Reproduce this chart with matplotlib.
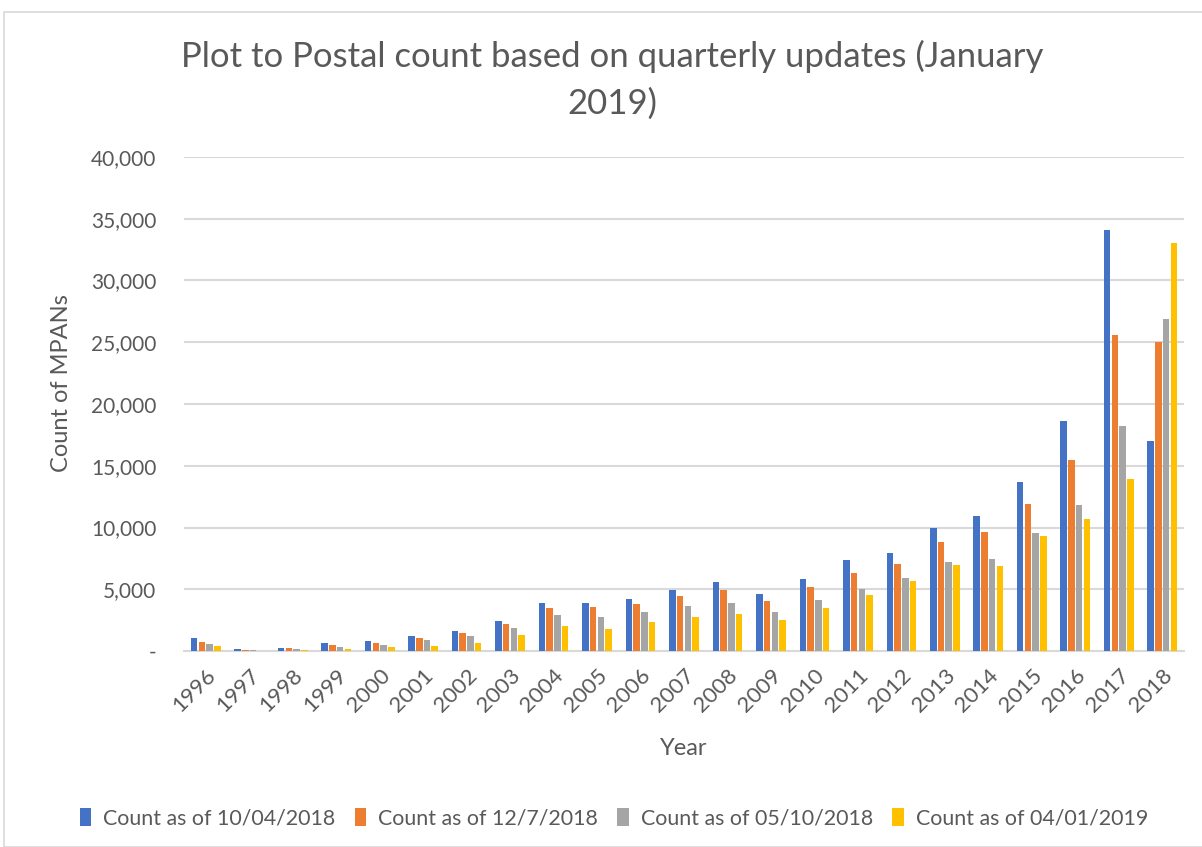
import numpy as np
import matplotlib.pyplot as plt
from matplotlib.patches import Rectangle
from matplotlib.ticker import FuncFormatter

years = [str(y) for y in range(1996, 2019)]
count_apr_2018 = [1030, 160, 270, 650, 790, 1200, 1630, 2390, 3900, 3900, 4240, 4920,
                  5600, 4650, 5870, 7340, 7960, 10000, 10900, 13700, 18600, 34100, 17000]
count_jul_2018 = [710, 110, 220, 490, 630, 1030, 1440, 2170, 3500, 3560, 3780, 4430,
                  4970, 4080, 5220, 6330, 7040, 8800, 9650, 11900, 15500, 25600, 25000]
count_oct_2018 = [570, 80, 160, 330, 490, 870, 1220, 1880, 2900, 2740, 3150, 3640,
                  3910, 3130, 4160, 5000, 5920, 7200, 7460, 9550, 11800, 18200, 26900]
count_jan_2019 = [410, 30, 110, 190, 300, 430, 630, 1280, 2040, 1800, 2340, 2770,
                  3020, 2530, 3500, 4540, 5650, 6950, 6900, 9300, 10700, 13900, 33000]

series = [count_apr_2018, count_jul_2018, count_oct_2018, count_jan_2019]
labels = ["Count as of 10/04/2018", "Count as of 12/7/2018",
          "Count as of 05/10/2018", "Count as of 04/01/2019"]
colors = ["#4472C4", "#ED7D31", "#A5A5A5", "#FFC000"]

plt.rcParams['font.family'] = ['Lato', 'DejaVu Sans']
txt = "#595959"

fig = plt.figure(figsize=(12.02, 8.47), dpi=100)
ax = fig.add_axes([184/1202, 1-651/847, 1000/1202, 494/847])

x = np.arange(len(years))
bw = 0.15
step = 0.178
for i, (vals, lab, col) in enumerate(zip(series, labels, colors)):
    ax.bar(x + (i-1.5)*step, vals, bw, color=col, label=lab, zorder=3)

ax.set_xlim(-0.5, len(years)-0.5)
ax.set_ylim(0, 40000)
ax.set_yticks(np.arange(0, 40001, 5000))
ax.yaxis.set_major_formatter(FuncFormatter(lambda v, p: "-" if v == 0 else f"{int(v):,}"))
ax.grid(axis='y', color='#d9d9d9', linewidth=1.5, zorder=0)
for s in ['top', 'right', 'left']:
    ax.spines[s].set_visible(False)
ax.spines['bottom'].set_color('#d9d9d9')
ax.spines['bottom'].set_linewidth(1.5)
ax.tick_params(axis='both', length=0, labelsize=15, colors=txt)
ax.tick_params(axis='y', pad=20)
ax.set_xticks(x)
ax.set_xticklabels(years, rotation=45, ha='right', rotation_mode='anchor', fontsize=16)
ax.tick_params(axis='x', pad=10)

fig.text(684/1202, 1-748/847, "Year", ha='center', va='center', fontsize=17, color=txt)
fig.text(62/1202, 1-383/847, "Count of MPANs", ha='center', va='center', rotation=90,
         fontsize=17, color=txt)
fig.text(612/1202, 1-80/847, "Plot to Postal count based on quarterly updates (January\n2019)",
         ha='center', va='center', fontsize=25, color=txt, linespacing=1.55)

fig.legend(loc='center', bbox_to_anchor=(614/1202, 1-818/847), ncol=4, frameon=False,
           fontsize=15.4, labelcolor=txt, handlelength=0.55, handleheight=0.9,
           handletextpad=0.55, columnspacing=0.9)

fig.patches.append(Rectangle((4/1202, 0), 1.2, 1-12/847, transform=fig.transFigure,
                             fill=False, edgecolor='#d9d9d9', linewidth=1.2))

fig.savefig("out.png", dpi=100)
